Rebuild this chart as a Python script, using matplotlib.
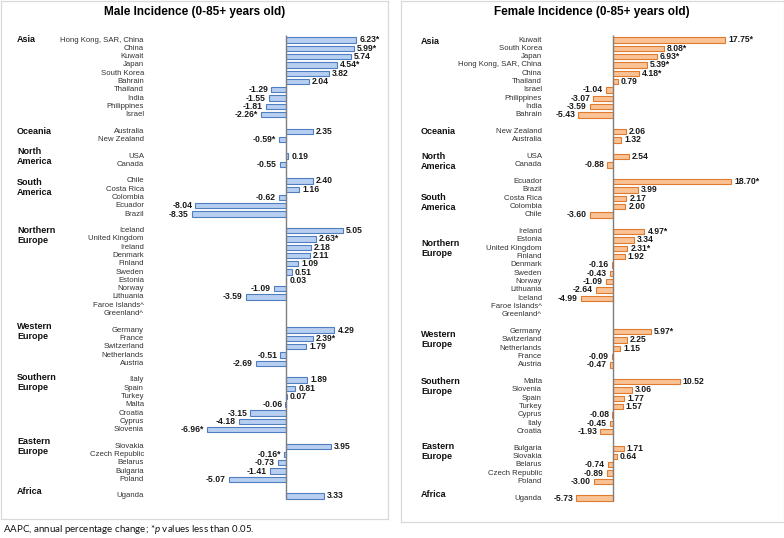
import matplotlib
matplotlib.use("Agg")
import matplotlib.pyplot as plt
import matplotlib.transforms as mtrans

plt.rcParams['font.family'] = ['Liberation Sans', 'DejaVu Sans']
plt.rcParams['mathtext.fontset'] = 'custom'
plt.rcParams['mathtext.it'] = 'Lato:italic'
plt.rcParams['mathtext.rm'] = 'Lato'

# ---------------- data ----------------
male_groups = ["Asia", "Oceania", "North\nAmerica", "South\nAmerica", "Northern\nEurope",
               "Western\nEurope", "Southern\nEurope", "Eastern\nEurope", "Africa"]
male_group_sizes = [10, 2, 2, 5, 11, 5, 7, 5, 1]
male_countries = [
    "Hong Kong, SAR, China", "China", "Kuwait", "Japan", "South Korea", "Bahrain",
    "Thailand", "India", "Philippines", "Israel",
    "Australia", "New Zealand",
    "USA", "Canada",
    "Chile", "Costa Rica", "Colombia", "Ecuador", "Brazil",
    "Iceland", "United Kingdom", "Ireland", "Denmark", "Finland", "Sweden", "Estonia",
    "Norway", "Lithuania", "Faroe Islands^", "Greenland^",
    "Germany", "France", "Switzerland", "Netherlands", "Austria",
    "Italy", "Spain", "Turkey", "Malta", "Croatia", "Cyprus", "Slovenia",
    "Slovakia", "Czech Republic", "Belarus", "Bulgaria", "Poland",
    "Uganda"]
male_values = [
    6.23, 5.99, 5.74, 4.54, 3.82, 2.04, -1.29, -1.55, -1.81, -2.26,
    2.35, -0.59,
    0.19, -0.55,
    2.40, 1.16, -0.62, -8.04, -8.35,
    5.05, 2.63, 2.18, 2.11, 1.09, 0.51, 0.03, -1.09, -3.59, None, None,
    4.29, 2.39, 1.79, -0.51, -2.69,
    1.89, 0.81, 0.07, -0.06, -3.15, -4.18, -6.96,
    3.95, -0.16, -0.73, -1.41, -5.07,
    3.33]
male_sig = [
    True, True, False, True, False, False, False, False, False, True,
    False, True,
    False, False,
    False, False, False, False, False,
    False, True, False, False, False, False, False, False, False, False, False,
    False, True, False, False, False,
    False, False, False, False, False, False, True,
    False, True, False, False, False,
    False]

female_groups = male_groups
female_group_sizes = [10, 2, 2, 5, 11, 5, 7, 5, 1]
female_countries = [
    "Kuwait", "South Korea", "Japan", "Hong Kong, SAR, China", "China", "Thailand",
    "Israel", "Philippines", "India", "Bahrain",
    "New Zealand", "Australia",
    "USA", "Canada",
    "Ecuador", "Brazil", "Costa Rica", "Colombia", "Chile",
    "Ireland", "Estonia", "United Kingdom", "Finland", "Denmark", "Sweden", "Norway",
    "Lithuania", "Iceland", "Faroe Islands^", "Greenland^",
    "Germany", "Switzerland", "Netherlands", "France", "Austria",
    "Malta", "Slovenia", "Spain", "Turkey", "Cyprus", "Italy", "Croatia",
    "Bulgaria", "Slovakia", "Belarus", "Czech Republic", "Poland",
    "Uganda"]
female_values = [
    17.75, 8.08, 6.93, 5.39, 4.18, 0.79, -1.04, -3.07, -3.59, -5.43,
    2.06, 1.32,
    2.54, -0.88,
    18.70, 3.99, 2.17, 2.00, -3.60,
    4.97, 3.34, 2.31, 1.92, -0.16, -0.43, -1.09, -2.64, -4.99, None, None,
    5.97, 2.25, 1.15, -0.09, -0.47,
    10.52, 3.06, 1.77, 1.57, -0.08, -0.45, -1.93,
    1.71, 0.64, -0.74, -0.89, -3.00,
    -5.73]
female_sig = [
    True, True, True, True, True, False, False, False, False, False,
    False, False,
    False, False,
    True, False, False, False, False,
    True, False, True, False, False, False, False, False, False, False, False,
    True, False, False, False, False,
    False, False, False, False, False, False, False,
    False, False, False, False, False,
    False]

# ---------------- layout (pixels) ----------------
W, H = 784, 538
fig = plt.figure(figsize=(W / 100, H / 100), dpi=100)
fig.patch.set_facecolor("white")


def panel(box, zero_px, scale, row0_px, row_step, title, groups, sizes, countries,
          values, sig, fill, edge, label_x_px, group_x_px, group_offsets):
    x0, y0, x1, y1 = box
    ax = fig.add_axes([x0 / W, 1 - y1 / H, (x1 - x0) / W, (y1 - y0) / H])
    ax.set_xlim((x0 - zero_px) / scale, (x1 - zero_px) / scale)
    ax.set_ylim((y1 - row0_px) / row_step, (y0 - row0_px) / row_step)
    ax.set_xticks([])
    ax.set_yticks([])
    for s in ax.spines.values():
        s.set_color("#d9d9d9")
        s.set_linewidth(0.9)

    # row positions with a blank row between groups
    rows = []
    group_rows = []
    r = 0
    for n in sizes:
        group_rows.append(r)
        rows.extend(range(r, r + n))
        r += n + 1
    nrows = r - 1

    ys = [rows[i] for i in range(len(values)) if values[i] is not None]
    vs = [values[i] for i in range(len(values)) if values[i] is not None]
    ax.barh(ys, vs, height=0.64, color=fill, edgecolor=edge, linewidth=0.8, zorder=2)
    ax.vlines(0, -0.55, nrows - 0.6, color="#7f7f7f", linewidth=1.0, zorder=3)

    lx = (label_x_px - x0) / (x1 - x0)
    gx = (group_x_px - x0) / (x1 - x0)
    blend = mtrans.blended_transform_factory(ax.transAxes, ax.transData)
    for i, c in enumerate(countries):
        ax.text(lx, rows[i], c, transform=blend, ha="right", va="center",
                fontsize=5.6, color="#333333")
        v = values[i]
        if v is None:
            continue
        lab = f"{v:.2f}" + ("*" if sig[i] else "")
        if v >= 0:
            ax.annotate(lab, (v, rows[i]), xytext=(2.2, 0), textcoords="offset points",
                        ha="left", va="center", fontsize=6.2, fontweight="bold",
                        color="#1a1a1a")
        else:
            ax.annotate(lab, (v, rows[i]), xytext=(-2.2, 0), textcoords="offset points",
                        ha="right", va="center", fontsize=6.2, fontweight="bold",
                        color="#1a1a1a")
    for g, gr, off in zip(groups, group_rows, group_offsets):
        ax.text(gx, gr + off, g, transform=blend, ha="left", va="center",
                fontsize=6.5, fontweight="bold", linespacing=1.15, color="#111111")

    ax.text(0.5, 1 - (12 - y0) / (y1 - y0), title, transform=ax.transAxes,
            ha="center", va="center", fontsize=8.5, fontweight="bold")
    return ax


panel((1, 0.5, 388, 519), 286, 11.28, 40, 8.29, "Male Incidence (0-85+ years old)",
      male_groups, male_group_sizes, male_countries, male_values, male_sig,
      "#b7cff0", "#4f7fc0", 144, 17,
      [0, 0, 0, 0.8, 0.6, 0.2, 0.35, 0, -0.5])

panel((401, 0.5, 783.5, 522), 612.7, 6.35, 40, 8.33, "Female Incidence (0-85+ years old)",
      female_groups, female_group_sizes, female_countries, female_values, female_sig,
      "#fac395", "#e07a2e", 542, 421,
      [0.2, 0, 0.6, 2.5, 2.0, 1.0, 0.65, 0.35, -0.4])

fig.text(3 / W, 1 - 529 / H, "AAPC, annual percentage change; *$p$ values less than 0.05.",
         ha="left", va="center", fontsize=7.0, family="Lato", color="#111111")

fig.savefig("out.png", dpi=100)
